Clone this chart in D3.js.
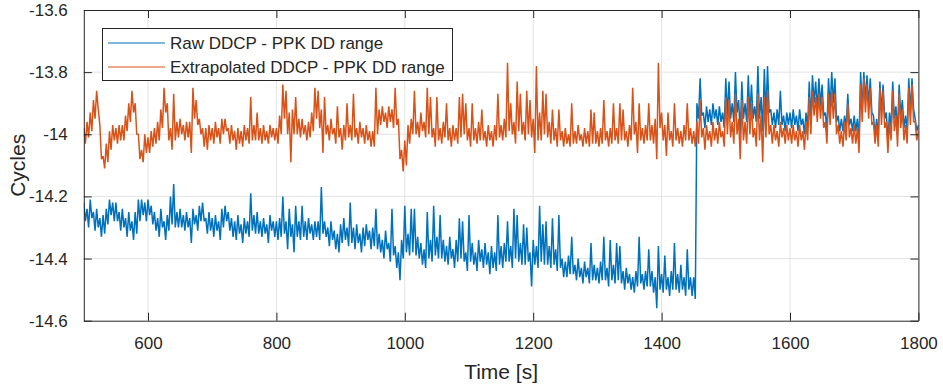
<!DOCTYPE html>
<html><head><meta charset="utf-8">
<script src="https://cdn.jsdelivr.net/npm/d3@7"></script>
<style>
body{margin:0;background:#fff}
svg{display:block}
text{font-family:Arial,"Liberation Sans",Helvetica,sans-serif;fill:#262626}
</style>
</head><body>
<svg id="c" width="943" height="387"></svg>
<script>
// ---- data ----
const xTicks = [600, 800, 1000, 1200, 1400, 1600, 1800];
const yTicks = [-13.6, -13.8, -14, -14.2, -14.4, -14.6];
const yTickLabels = ["-13.6", "-13.8", "-14", "-14.2", "-14.4", "-14.6"];
const seriesNames = ["Raw DDCP - PPK DD range", "Extrapolated DDCP - PPK DD range"];
// each series is stored as the upper / lower extent of the trace in consecutive 5 s bins
const binStart = 500, binWidth = 5; // seconds

const rawHigh = [
 -14.22,-14.24,-14.21,-14.25,-14.24,-14.27,-14.26,-14.24,-14.21,-14.22, // 500
 -14.22,-14.25,-14.24,-14.27,-14.25,-14.28,-14.25,-14.21,-14.21,-14.22, // 550
 -14.21,-14.23,-14.25,-14.27,-14.24,-14.28,-14.26,-14.20,-14.16,-14.25, // 600
 -14.24,-14.26,-14.25,-14.27,-14.24,-14.26,-14.23,-14.22,-14.27,-14.25, // 650
 -14.27,-14.26,-14.28,-14.24,-14.23,-14.25,-14.27,-14.28,-14.26,-14.29, // 700
 -14.27,-14.28,-14.19,-14.26,-14.25,-14.28,-14.27,-14.29,-14.26,-14.28, // 750
 -14.28,-14.27,-14.20,-14.28,-14.24,-14.29,-14.23,-14.28,-14.23,-14.28, // 800
 -14.27,-14.29,-14.28,-14.28,-14.17,-14.28,-14.30,-14.28,-14.31,-14.32, // 850
 -14.29,-14.27,-14.30,-14.22,-14.30,-14.29,-14.32,-14.30,-14.29,-14.31, // 900
 -14.30,-14.24,-14.32,-14.34,-14.31,-14.35,-14.24,-14.36,-14.38,-14.34, // 950
 -14.23,-14.32,-14.24,-14.24,-14.33,-14.35,-14.37,-14.25,-14.34,-14.23, // 1000
 -14.33,-14.26,-14.34,-14.36,-14.33,-14.37,-14.34,-14.27,-14.28,-14.38, // 1050
 -14.26,-14.35,-14.38,-14.34,-14.37,-14.35,-14.38,-14.36,-14.38,-14.26, // 1100
 -14.36,-14.35,-14.28,-14.36,-14.24,-14.26,-14.35,-14.29,-14.30,-14.38, // 1150
 -14.34,-14.36,-14.23,-14.29,-14.28,-14.36,-14.27,-14.37,-14.26,-14.40, // 1200
 -14.41,-14.39,-14.33,-14.42,-14.40,-14.43,-14.41,-14.43,-14.35,-14.42, // 1250
 -14.43,-14.41,-14.33,-14.43,-14.34,-14.42,-14.35,-14.36,-14.44,-14.43, // 1300
 -14.45,-14.46,-14.44,-14.33,-14.45,-14.44,-14.37,-14.44,-14.46,-14.36, // 1350
 -14.45,-14.39,-14.46,-14.44,-14.35,-14.45,-14.42,-14.46,-14.37,-14.46, // 1400
 -14.46,-13.90,-13.82,-13.93,-13.91,-13.92,-13.90,-13.92,-13.91,-13.93, // 1450
 -13.82,-13.83,-13.90,-13.80,-13.89,-13.83,-13.90,-13.81,-13.84,-13.91, // 1500
 -13.78,-13.88,-13.79,-13.78,-13.92,-13.93,-13.92,-13.86,-13.94,-13.93, // 1550
 -13.93,-13.92,-13.94,-13.92,-13.95,-13.93,-13.83,-13.81,-13.83,-13.82, // 1600
 -13.84,-13.93,-13.82,-13.80,-13.82,-13.94,-13.95,-13.94,-13.87,-13.95, // 1650
 -13.94,-13.95,-13.80,-13.80,-13.81,-13.82,-13.94,-13.95,-13.83,-13.84, // 1700
 -13.93,-13.93,-13.83,-13.91,-13.84,-13.89,-13.94,-13.82,-13.82,-13.95, // 1750
 -13.97                                                                  // 1800
];
const rawLow = [
 -14.28,-14.30,-14.27,-14.31,-14.30,-14.33,-14.32,-14.29,-14.26,-14.28, // 500
 -14.28,-14.31,-14.30,-14.33,-14.31,-14.34,-14.32,-14.28,-14.26,-14.28, // 550
 -14.26,-14.29,-14.31,-14.33,-14.30,-14.34,-14.31,-14.29,-14.30,-14.30, // 600
 -14.30,-14.31,-14.30,-14.35,-14.29,-14.31,-14.28,-14.28,-14.32,-14.31, // 650
 -14.33,-14.31,-14.34,-14.30,-14.28,-14.31,-14.33,-14.34,-14.32,-14.35, // 700
 -14.32,-14.33,-14.31,-14.32,-14.32,-14.33,-14.32,-14.35,-14.31,-14.33, // 750
 -14.34,-14.33,-14.32,-14.37,-14.33,-14.38,-14.33,-14.34,-14.33,-14.34, // 800
 -14.32,-14.34,-14.33,-14.34,-14.32,-14.33,-14.36,-14.34,-14.37,-14.38, // 850
 -14.35,-14.34,-14.36,-14.35,-14.37,-14.35,-14.38,-14.36,-14.34,-14.37, // 900
 -14.36,-14.37,-14.38,-14.40,-14.37,-14.41,-14.39,-14.43,-14.47,-14.40, // 950
 -14.38,-14.39,-14.38,-14.39,-14.40,-14.42,-14.43,-14.40,-14.41,-14.39, // 1000
 -14.40,-14.40,-14.41,-14.42,-14.40,-14.43,-14.41,-14.40,-14.41,-14.44, // 1050
 -14.41,-14.42,-14.44,-14.41,-14.43,-14.42,-14.45,-14.43,-14.44,-14.42, // 1100
 -14.43,-14.41,-14.41,-14.43,-14.40,-14.41,-14.42,-14.42,-14.41,-14.49, // 1150
 -14.42,-14.43,-14.41,-14.42,-14.42,-14.43,-14.42,-14.44,-14.43,-14.46, // 1200
 -14.46,-14.45,-14.45,-14.47,-14.46,-14.48,-14.46,-14.48,-14.47,-14.47, // 1250
 -14.48,-14.47,-14.47,-14.49,-14.47,-14.48,-14.47,-14.48,-14.50,-14.48, // 1300
 -14.50,-14.51,-14.49,-14.48,-14.50,-14.49,-14.49,-14.51,-14.56,-14.50, // 1350
 -14.51,-14.50,-14.52,-14.50,-14.50,-14.51,-14.50,-14.52,-14.50,-14.52, // 1400
 -14.53,-13.95,-13.94,-13.98,-13.96,-13.97,-13.95,-13.97,-13.96,-13.98, // 1450
 -13.94,-13.95,-13.96,-13.93,-14.00,-13.95,-13.96,-13.94,-13.95,-13.96, // 1500
 -13.95,-13.99,-13.94,-13.93,-13.97,-13.98,-13.97,-13.97,-13.99,-13.97, // 1550
 -13.98,-13.97,-13.99,-13.97,-14.00,-13.98,-13.96,-13.90,-13.92,-13.91, // 1600
 -13.94,-13.99,-13.92,-13.90,-13.96,-13.99,-13.99,-13.98,-13.97,-13.99, // 1650
 -13.99,-14.02,-13.92,-13.89,-13.91,-13.93,-14.00,-14.01,-13.93,-13.95, // 1700
 -14.02,-13.98,-13.95,-14.00,-13.94,-13.98,-13.99,-13.93,-13.92,-13.99, // 1750
 -13.99                                                                  // 1800
];

const extrapHigh = [
 -13.98,-13.96,-13.93,-13.89,-13.86,-13.97,-14.07,-14.03,-13.99,-13.97, // 500
 -13.98,-13.97,-13.97,-13.94,-13.90,-13.86,-13.90,-14.00,-14.05,-14.00, // 550
 -14.01,-13.99,-13.98,-13.96,-13.92,-13.85,-13.90,-13.98,-13.87,-13.96, // 600
 -13.95,-13.97,-13.96,-13.96,-13.85,-13.89,-13.95,-13.98,-13.98,-13.97, // 650
 -13.98,-13.96,-13.98,-13.95,-13.95,-13.98,-13.97,-13.99,-13.98,-13.99, // 700
 -13.97,-13.98,-13.88,-13.97,-13.93,-13.98,-13.97,-13.99,-13.97,-13.98, // 750
 -13.98,-13.94,-13.84,-13.86,-13.93,-13.92,-13.88,-13.95,-13.95,-13.97, // 800
 -13.96,-13.93,-13.85,-13.86,-13.92,-13.88,-13.97,-13.95,-13.98,-13.91, // 850
 -13.98,-13.97,-13.90,-13.97,-13.87,-13.98,-13.96,-13.98,-13.97,-13.99, // 900
 -13.99,-13.85,-13.92,-13.91,-13.93,-13.91,-13.92,-13.85,-13.95,-14.05, // 950
 -14.02,-13.97,-13.95,-13.86,-13.96,-13.93,-13.96,-13.85,-13.88,-13.98, // 1000
 -13.88,-13.98,-13.96,-13.90,-13.98,-13.97,-13.98,-13.88,-13.87,-13.90, // 1050
 -13.98,-13.90,-13.98,-13.96,-13.92,-13.99,-13.97,-13.99,-13.97,-13.87, // 1100
 -13.97,-13.95,-13.77,-13.90,-13.96,-13.83,-13.87,-13.96,-13.86,-13.89, // 1150
 -13.95,-13.78,-13.93,-13.86,-13.87,-13.96,-13.92,-13.98,-13.92,-13.99, // 1200
 -13.98,-14.00,-13.90,-13.99,-13.97,-14.00,-13.98,-13.99,-13.92,-13.93, // 1250
 -13.99,-13.98,-13.89,-13.99,-13.98,-13.90,-13.98,-13.90,-13.92,-13.99, // 1300
 -13.97,-13.85,-13.96,-13.90,-13.98,-13.97,-13.90,-13.97,-13.95,-13.77, // 1350
 -13.93,-13.97,-13.93,-13.99,-13.90,-13.98,-13.99,-13.97,-13.90,-13.98, // 1400
 -13.99,-13.96,-13.89,-13.98,-13.97,-13.99,-13.96,-13.98,-13.96,-13.99, // 1450
 -13.88,-13.89,-13.96,-13.87,-13.95,-13.89,-13.96,-13.88,-13.90,-13.98, // 1500
 -13.87,-13.94,-13.88,-13.86,-13.97,-13.97,-13.99,-13.96,-13.98,-13.97, // 1550
 -13.98,-13.97,-13.99,-13.97,-13.99,-13.96,-13.88,-13.86,-13.88,-13.87, // 1600
 -13.88,-13.96,-13.87,-13.86,-13.87,-13.97,-13.99,-13.96,-13.90,-13.98, // 1650
 -13.97,-13.98,-13.84,-13.82,-13.84,-13.85,-13.96,-13.97,-13.85,-13.86, // 1700
 -13.96,-13.96,-13.86,-13.94,-13.87,-13.92,-13.97,-13.85,-13.84,-13.96, // 1750
 -13.99                                                                  // 1800
];
const extrapLow = [
 -14.03,-14.01,-13.99,-13.95,-13.92,-14.08,-14.11,-14.09,-14.05,-14.02, // 500
 -14.03,-14.02,-14.02,-13.99,-13.96,-13.93,-14.00,-14.08,-14.09,-14.06, // 550
 -14.06,-14.04,-14.03,-14.02,-13.98,-13.93,-14.02,-14.05,-14.02,-14.01, // 600
 -14.00,-14.02,-14.01,-14.06,-13.95,-13.97,-14.00,-14.04,-14.05,-14.02, // 650
 -14.03,-14.01,-14.03,-14.00,-13.99,-14.03,-14.02,-14.05,-14.03,-14.04, // 700
 -14.02,-14.03,-14.02,-14.02,-14.02,-14.03,-14.02,-14.03,-14.01,-14.02, // 750
 -14.03,-14.00,-13.95,-14.00,-14.09,-14.00,-14.00,-14.01,-14.00,-14.02, // 800
 -14.01,-13.99,-13.95,-13.98,-14.06,-14.00,-14.02,-14.00,-14.03,-14.01, // 850
 -14.05,-14.02,-14.01,-14.02,-14.01,-14.03,-14.01,-14.03,-14.02,-14.04, // 900
 -14.04,-14.00,-13.97,-13.96,-13.98,-13.96,-13.98,-13.97,-14.08,-14.12, // 950
 -14.10,-14.03,-14.00,-14.00,-14.01,-13.99,-14.01,-14.00,-14.01,-14.04, // 1000
 -14.02,-14.03,-14.01,-14.02,-14.04,-14.02,-14.03,-14.01,-14.00,-14.02, // 1050
 -14.04,-14.02,-14.03,-14.02,-14.02,-14.04,-14.02,-14.04,-14.02,-14.01, // 1100
 -14.02,-14.01,-13.99,-14.00,-14.03,-13.99,-14.00,-14.02,-14.00,-14.01, // 1150
 -14.06,-14.02,-14.02,-14.00,-14.01,-14.03,-14.02,-14.04,-14.02,-14.04, // 1200
 -14.03,-14.04,-14.03,-14.03,-14.02,-14.04,-14.03,-14.04,-14.03,-14.03, // 1250
 -14.04,-14.03,-14.02,-14.04,-14.03,-14.02,-14.03,-14.02,-14.02,-14.04, // 1300
 -14.02,-14.00,-14.06,-14.02,-14.03,-14.02,-14.02,-14.03,-14.08,-13.98, // 1350
 -14.02,-14.07,-14.02,-14.04,-14.02,-14.03,-14.04,-14.02,-14.02,-14.03, // 1400
 -14.04,-14.03,-14.01,-14.05,-14.02,-14.04,-14.02,-14.03,-14.01,-14.04, // 1450
 -14.00,-14.01,-14.03,-14.00,-14.08,-14.02,-14.03,-14.00,-14.01,-14.04, // 1500
 -14.02,-14.09,-14.01,-14.00,-14.03,-14.02,-14.04,-14.01,-14.03,-14.02, // 1550
 -14.03,-14.02,-14.04,-14.02,-14.05,-14.02,-14.00,-13.94,-13.96,-13.95, // 1600
 -13.98,-14.03,-13.97,-13.95,-14.00,-14.03,-14.04,-14.02,-14.01,-14.03, // 1650
 -14.03,-14.06,-13.96,-13.93,-13.95,-13.97,-14.03,-14.04,-13.97,-13.98, // 1700
 -14.06,-14.02,-13.99,-14.04,-13.98,-14.02,-14.03,-13.97,-13.96,-14.02, // 1750
 -14.02                                                                  // 1800
];

// ---- layout ----
const plot = {left: 83.8, right: 918.4, top: 10, bottom: 320.7};
const colors = ["#0072BD", "#D95319"];
const axisColor = "#262626", gridColor = "#e3e3e3";

const svg = d3.select("#c");
const x = d3.scaleLinear().domain([500, 1800]).range([plot.left, plot.right]);
const y = d3.scaleLinear().domain([-14.6, -13.6]).range([plot.bottom, plot.top]);

// trace through each bin: its upper extent, then its lower extent
function binTrace(high, low) {
  const pts = [];
  high.forEach((h, i) => {
    const t = binStart + i * binWidth;
    pts.push([t, h]);
    pts.push([t + binWidth / 2, low[i]]);
  });
  return pts;
}

// grid
const g = svg.append("g");
g.selectAll("line.vg").data(xTicks.filter(v => v < 1800)).enter().append("line")
  .attr("x1", d => x(d)).attr("x2", d => x(d)).attr("y1", plot.top).attr("y2", plot.bottom)
  .attr("stroke", gridColor).attr("stroke-width", 1);
g.selectAll("line.hg").data(yTicks.filter(v => v > -14.6 && v < -13.6)).enter().append("line")
  .attr("y1", d => y(d)).attr("y2", d => y(d)).attr("x1", plot.left).attr("x2", plot.right)
  .attr("stroke", gridColor).attr("stroke-width", 1);

// clip
svg.append("clipPath").attr("id", "clip").append("rect")
  .attr("x", plot.left).attr("y", plot.top)
  .attr("width", plot.right - plot.left).attr("height", plot.bottom - plot.top);

const line = d3.line().x(d => x(d[0])).y(d => y(d[1]));
const dataG = svg.append("g").attr("clip-path", "url(#clip)");
[[rawHigh, rawLow], [extrapHigh, extrapLow]].forEach((s, k) => {
  dataG.append("path").datum(binTrace(s[0], s[1])).attr("d", line)
    .attr("fill", "none").attr("stroke", colors[k]).attr("stroke-width", 1.5)
    .attr("stroke-linejoin", "bevel");
});

// axes with inward ticks
const tickLen = 8;
const axB = d3.axisBottom(x).tickValues(xTicks).tickSizeInner(-tickLen).tickSizeOuter(0).tickPadding(16).tickFormat(d3.format("d"));
const axT = d3.axisTop(x).tickValues(xTicks).tickSizeInner(-tickLen).tickSizeOuter(0).tickFormat("");
const axL = d3.axisLeft(y).tickValues(yTicks).tickSizeInner(-tickLen).tickSizeOuter(0).tickPadding(16)
  .tickFormat((d, i) => yTickLabels[i]);
const axR = d3.axisRight(y).tickValues(yTicks).tickSizeInner(-tickLen).tickSizeOuter(0).tickFormat("");

function styleAxis(sel) {
  sel.select(".domain").attr("stroke", axisColor).attr("stroke-width", 1);
  sel.selectAll(".tick line").attr("stroke", axisColor).attr("stroke-width", 1);
  sel.selectAll(".tick text").attr("fill", axisColor).style("font-size", "17px")
    .style("font-family", "Arial, 'Liberation Sans', Helvetica, sans-serif");
}
svg.append("g").attr("transform", `translate(0,${plot.bottom})`).call(axB).call(styleAxis);
svg.append("g").attr("transform", `translate(0,${plot.top})`).call(axT).call(styleAxis);
svg.append("g").attr("transform", `translate(${plot.left},0)`).call(axL).call(styleAxis);
svg.append("g").attr("transform", `translate(${plot.right},0)`).call(axR).call(styleAxis);

// axis labels
svg.append("text").attr("x", (plot.left + plot.right) / 2).attr("y", 379)
  .attr("text-anchor", "middle").style("font-size", "21px").text("Time [s]");
svg.append("text").attr("transform", `translate(25,${(plot.top + plot.bottom) / 2}) rotate(-90)`)
  .attr("text-anchor", "middle").style("font-size", "21px").text("Cycles");

// legend
const lg = svg.append("g");
lg.append("rect").attr("x", 102.5).attr("y", 28.5).attr("width", 350).attr("height", 52)
  .attr("fill", "#fff").attr("stroke", axisColor).attr("stroke-width", 1);
seriesNames.forEach((name, k) => {
  const yy = 43 + k * 24;
  lg.append("line").attr("x1", 108).attr("x2", 165).attr("y1", yy).attr("y2", yy)
    .attr("stroke", colors[k]).attr("stroke-width", 1.2);
  lg.append("text").attr("x", 170).attr("y", yy + 6).style("font-size", "17px").text(name);
});
</script>
</body></html>
